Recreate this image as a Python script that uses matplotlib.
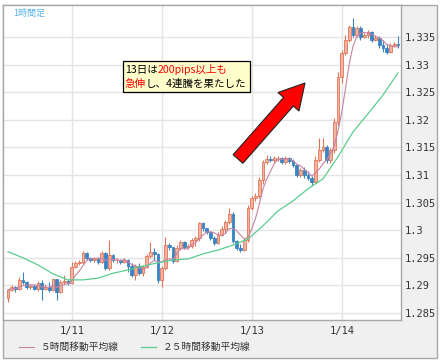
import numpy as np
import pandas as pd
import matplotlib
matplotlib.use("Agg")
import matplotlib.pyplot as plt
from matplotlib.patches import FancyArrow, Rectangle

# ---------------------------------------------
# Hourly candles, 1/10 07:00 -> 1/14 15:00

start_time = "2016-01-10 07:00"
first_open = 1.2877

close = [1.2892, 1.2897, 1.2893, 1.2910, 1.2906, 1.2897, 1.2899, 1.2893, 1.2904, 1.2893,
         1.2897, 1.2892, 1.2912, 1.2888, 1.2906, 1.2908, 1.2904, 1.2933, 1.2941, 1.2942,
         1.2959, 1.2950, 1.2946, 1.2948, 1.2942, 1.2959, 1.2932, 1.2955, 1.2946, 1.2946,
         1.2942, 1.2946, 1.2935, 1.2919, 1.2935, 1.2922, 1.2933, 1.2953, 1.2961, 1.2957,
         1.2910, 1.2932, 1.2973, 1.2970, 1.2944, 1.2968, 1.2979, 1.2970, 1.2971, 1.2982,
         1.2986, 1.3013, 1.3004, 1.2997, 1.2986, 1.2977, 1.2991, 1.3002, 1.3015, 1.3029,
         1.2980, 1.2968, 1.2964, 1.2982, 1.3040, 1.3058, 1.3062, 1.3091, 1.3124, 1.3129,
         1.3127, 1.3131, 1.3131, 1.3124, 1.3131, 1.3125, 1.3118, 1.3100, 1.3109, 1.3100,
         1.3095, 1.3087, 1.3127, 1.3145, 1.3151, 1.3127, 1.3145, 1.3196, 1.3278, 1.3321,
         1.3345, 1.3368, 1.3354, 1.3366, 1.3350, 1.3354, 1.3359, 1.3345, 1.3348, 1.3336,
         1.3330, 1.3323, 1.3336, 1.3337, 1.3336]

high = [1.2893, 1.2901, 1.2899, 1.2915, 1.2924, 1.2908, 1.2903, 1.2901, 1.2908, 1.2910,
        1.2903, 1.2906, 1.2913, 1.2912, 1.2910, 1.2919, 1.2912, 1.2942, 1.2944, 1.2946,
        1.2962, 1.2961, 1.2951, 1.2951, 1.2951, 1.2962, 1.2961, 1.2982, 1.2957, 1.2950,
        1.2948, 1.2950, 1.2948, 1.2941, 1.2939, 1.2941, 1.2937, 1.2957, 1.2979, 1.2968,
        1.2959, 1.2935, 1.2988, 1.2977, 1.2970, 1.2973, 1.2982, 1.2980, 1.2975, 1.2986,
        1.2990, 1.3015, 1.3015, 1.3004, 1.2999, 1.2990, 1.2997, 1.3008, 1.3019, 1.3040,
        1.3033, 1.2982, 1.2975, 1.2986, 1.3046, 1.3062, 1.3067, 1.3096, 1.3127, 1.3136,
        1.3134, 1.3134, 1.3134, 1.3133, 1.3134, 1.3133, 1.3129, 1.3120, 1.3113, 1.3115,
        1.3107, 1.3098, 1.3134, 1.3167, 1.3167, 1.3154, 1.3149, 1.3203, 1.3287, 1.3327,
        1.3354, 1.3372, 1.3385, 1.3370, 1.3370, 1.3357, 1.3363, 1.3361, 1.3354, 1.3352,
        1.3345, 1.3337, 1.3339, 1.3341, 1.3352]

low = [1.2870, 1.2890, 1.2888, 1.2892, 1.2903, 1.2893, 1.2893, 1.2892, 1.2890, 1.2874,
       1.2892, 1.2888, 1.2890, 1.2874, 1.2886, 1.2903, 1.2901, 1.2903, 1.2932, 1.2937,
       1.2939, 1.2946, 1.2942, 1.2942, 1.2939, 1.2941, 1.2928, 1.2928, 1.2942, 1.2941,
       1.2939, 1.2941, 1.2924, 1.2915, 1.2910, 1.2919, 1.2917, 1.2932, 1.2950, 1.2946,
       1.2904, 1.2897, 1.2928, 1.2964, 1.2941, 1.2942, 1.2964, 1.2966, 1.2966, 1.2968,
       1.2971, 1.2980, 1.2999, 1.2993, 1.2982, 1.2973, 1.2975, 1.2990, 1.2995, 1.3011,
       1.2977, 1.2964, 1.2961, 1.2962, 1.2979, 1.3037, 1.3053, 1.3058, 1.3084, 1.3120,
       1.3124, 1.3124, 1.3125, 1.3120, 1.3120, 1.3122, 1.3115, 1.3096, 1.3096, 1.3095,
       1.3091, 1.3082, 1.3086, 1.3124, 1.3142, 1.3122, 1.3122, 1.3140, 1.3191, 1.3267,
       1.3317, 1.3341, 1.3350, 1.3350, 1.3345, 1.3348, 1.3348, 1.3341, 1.3343, 1.3330,
       1.3323, 1.3319, 1.3321, 1.3332, 1.3330]

# 25h moving average every 4 candles (its history starts before the window)
ma25_step = 4
ma25 = [1.2961, 1.2950, 1.2937, 1.2921, 1.2910, 1.2910, 1.2913, 1.2922, 1.2928, 1.2935,
        1.2941, 1.2946, 1.2948, 1.2957, 1.2964, 1.2973, 1.2984, 1.3008, 1.3035, 1.3053,
        1.3075, 1.3093, 1.3133, 1.3178, 1.3211, 1.3245, 1.3285]

y_ticks = [1.285, 1.29, 1.295, 1.3, 1.305, 1.31, 1.315, 1.32, 1.325, 1.33, 1.335]
y_labels = ["1.285", "1.29", "1.295", "1.3", "1.305", "1.31", "1.315", "1.32", "1.325", "1.33", "1.335"]

# ---------------------------------------------
# Frame the data

df = pd.DataFrame({"Close": close, "High": high, "Low": low})
df["Open"] = [first_open] + close[:-1]
df["Time"] = pd.date_range(start_time, periods=len(df), freq="h")
df["MA5"] = df["Close"].rolling(5, min_periods=1).mean()
idx = np.arange(len(df))
up = df["Close"] >= df["Open"]

# ---------------------------------------------
# Figure, outer panel and plot area

W, H = 444, 361
plt.rcParams["font.family"] = ["Noto Sans CJK JP", "DejaVu Sans"]
fig = plt.figure(figsize=(W / 100, H / 100), dpi=100)
fig.patch.set_facecolor("white")

bg = fig.add_axes([0, 0, 1, 1])
bg.set_xlim(0, W)
bg.set_ylim(H, 0)
bg.axis("off")
bg.add_patch(Rectangle((3, 5), 434, 353, fc="#f0f0f0", ec="#a8a8a8", lw=1))

ax = fig.add_axes([3 / W, 1 - 320 / H, 398 / W, 315 / H])
ax.set_facecolor("white")
for s in ax.spines.values():
    s.set_color("#a8a8a8")
    s.set_linewidth(1)

up_edge, up_fill = "#e07658", "#f2b4a2"
dn_col = "#3a84c4"

# wicks
ax.vlines(idx[up], df["Low"][up], df["High"][up], color=up_edge, lw=0.8, zorder=2)
ax.vlines(idx[~up], df["Low"][~up], df["High"][~up], color=dn_col, lw=0.8, zorder=2)
# bodies
body_lo = np.minimum(df["Open"], df["Close"])
body_h = np.maximum((df["Close"] - df["Open"]).abs(), 0.00006)
ax.bar(idx[up], body_h[up], bottom=body_lo[up], width=0.72,
       color=up_fill, edgecolor=up_edge, lw=0.6, zorder=3)
ax.bar(idx[~up], body_h[~up], bottom=body_lo[~up], width=0.72,
       color=dn_col, edgecolor=dn_col, lw=0.6, zorder=3)

ma5_line, = ax.plot(idx, df["MA5"], color="#c884a4", lw=0.8, zorder=4)
ma25_line, = ax.plot(idx[::ma25_step], ma25, color="#5ccc8e", lw=0.9, zorder=4)

# ---------------------------------------------
# Axes, ticks and grid

ax.set_xlim(-1.33, 104.8)
ax.set_ylim(1.28373, 1.3408)
day_pos = idx[df["Time"].dt.hour == 0]
ax.set_xticks(day_pos)
ax.set_xticklabels([f"{t.month}/{t.day}" for t in df["Time"][day_pos]],
                   family="DejaVu Sans Mono", fontsize=7.5, color="#333333")
ax.yaxis.tick_right()
ax.set_yticks(y_ticks)
ax.set_yticklabels(y_labels, family="DejaVu Sans Mono", fontsize=7.5, color="#333333")
ax.tick_params(axis="both", length=0)
ax.tick_params(axis="y", pad=3)
ax.tick_params(axis="x", pad=4)
ax.grid(True, color="#e4e4e4", lw=1)
ax.set_axisbelow(True)

# ---------------------------------------------
# Overlay for the annotations (figure pixel space)

ov = fig.add_axes([0, 0, 1, 1], zorder=10)
ov.set_xlim(0, W)
ov.set_ylim(H, 0)
ov.patch.set_alpha(0)
ov.axis("off")

ov.text(13, 13, "1時間足", color="#5ab4ec", fontsize=6.5, va="center", ha="left")

ov.add_patch(Rectangle((123, 61), 127, 31, fc="#ffffcc", ec="black", lw=0.9))
renderer = fig.canvas.get_renderer()


def rich_line(x, y, parts):
    for txt, col in parts:
        t = ov.text(x, y, txt, color=col, fontsize=7.6, va="center", ha="left")
        x += t.get_window_extent(renderer=renderer).width
    return x


rich_line(125, 69.5, [("13日は", "black"), ("200pips以上も", "#ff0000")])
rich_line(125, 84, [("急伸", "#ff0000"), ("し、4連騰を果たした", "black")])

ov.add_patch(FancyArrow(238, 159, 67, -76, width=13, head_width=28, head_length=25,
                        length_includes_head=True, fc="#ff0000", ec="#222222", lw=0.8))

fig.legend([ma5_line, ma25_line], ["５時間移動平均線", "２５時間移動平均線"],
           loc="center left", bbox_to_anchor=(10 / W, 1 - 347 / H), ncol=2,
           frameon=False, fontsize=7, handlelength=1.6, handletextpad=0.7,
           columnspacing=2.2, labelcolor="#333333")

fig.savefig("out.png", dpi=100)
